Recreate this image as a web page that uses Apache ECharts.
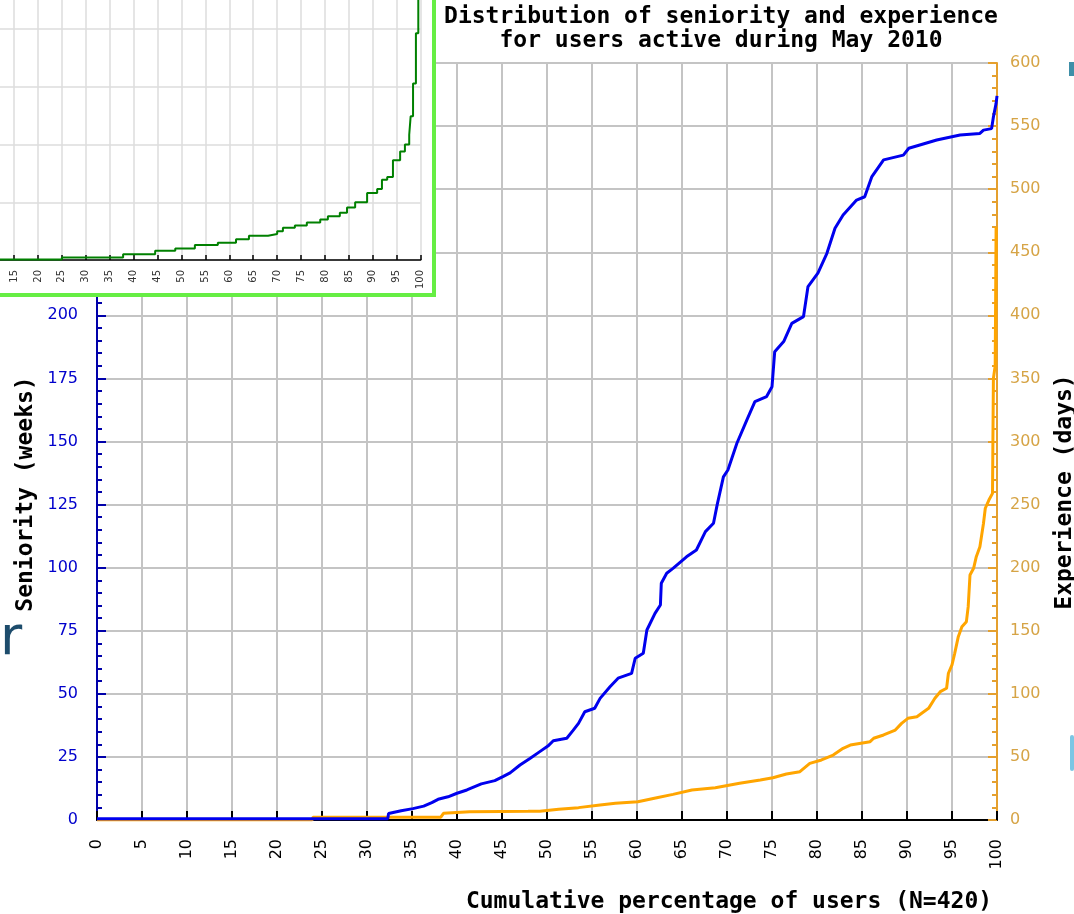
<!DOCTYPE html>
<html>
<head>
<meta charset="utf-8">
<script src="https://cdn.jsdelivr.net/npm/echarts@6/dist/echarts.min.js"></script>
<style>
html,body{margin:0;padding:0;background:#fff;}
#chart{width:1074px;height:914px;}
</style>
</head>
<body>
<div id="chart"></div>
<script>
// Main chart: seniority (weeks) vs cumulative percentage of users
const seniorityPct = [0, 32.3, 32.4, 33.8, 35.1, 36.3, 37.2, 37.9, 39.0, 40.0, 41.1, 42.7, 44.2, 45.1, 45.9, 47.0, 48.1, 49.2, 50.1, 50.7, 52.2, 52.9, 53.5, 54.2, 55.3, 55.9, 57.0, 57.9, 59.4, 59.8, 60.7, 61.1, 62.0, 62.6, 62.7, 63.3, 64.0, 65.5, 66.6, 67.6, 68.5, 68.9, 69.6, 70.1, 71.1, 72.2, 73.1, 74.4, 75.0, 75.3, 76.3, 77.2, 78.5, 79.0, 80.1, 81.1, 82.0, 82.9, 84.4, 85.3, 86.1, 87.4, 89.6, 90.2, 91.8, 93.3, 95.9, 98.1, 98.5, 99.4, 99.6, 99.9, 100];
const seniorityWeeks = [0.5, 0.5, 2.6, 3.7, 4.5, 5.5, 6.9, 8.2, 9.2, 10.6, 11.9, 14.3, 15.6, 17.2, 18.7, 21.8, 24.4, 27.1, 29.3, 31.4, 32.4, 35.5, 38.3, 42.9, 44.3, 48.2, 52.8, 56.2, 58.1, 64.1, 66.1, 75.3, 81.9, 85.2, 93.8, 97.8, 99.7, 104.3, 107, 114.3, 117.6, 124.8, 136, 138.7, 149.3, 158.5, 165.8, 167.8, 171.7, 185.6, 189.6, 196.8, 199.5, 211.4, 216.7, 224.6, 234.5, 239.8, 245.7, 247, 255, 261.6, 263.5, 266.2, 267.9, 269.5, 271.5, 272.1, 273.4, 274, 278.6, 284, 287];

// Experience (days) vs cumulative percentage of users
const experiencePct = [0, 23.9, 24.0, 38.2, 38.5, 41.4, 45.0, 47.9, 49.2, 51.3, 53.5, 55.9, 57.6, 60.1, 62.2, 64.0, 66.1, 68.7, 71.4, 73.7, 75.1, 76.6, 78.1, 79.2, 80.5, 81.8, 82.9, 83.7, 85.9, 86.3, 87.4, 88.7, 89.4, 90.1, 91.1, 92.4, 93.1, 93.7, 94.4, 94.6, 95.0, 95.3, 95.7, 96.1, 96.6, 96.8, 97.0, 97.4, 97.7, 98.1, 98.5, 98.7, 99.1, 99.5, 99.6, 99.8, 99.9];
const experienceDays = [0, 0, 2.2, 2.2, 5.3, 6.6, 6.8, 6.9, 7.0, 8.5, 9.8, 11.9, 13.2, 14.5, 17.7, 20.3, 23.8, 25.6, 29.1, 31.7, 33.5, 36.5, 38.3, 44.9, 47.6, 51.5, 56.8, 59.4, 62.1, 64.8, 67.4, 71.3, 76.6, 80.6, 81.9, 88.5, 96.5, 101.7, 104.4, 116.3, 122.9, 132.1, 145.3, 153.2, 157.2, 169.1, 194.2, 199.5, 208.7, 216.6, 235.2, 247.1, 253.6, 258.9, 350, 360, 470];

// Inset (partially visible overlaid chart)
const insetPct = [10, 25.0, 37.8, 44.5, 48.7, 52.8, 57.6, 61.4, 64.1, 68.1, 70.0, 71.2, 73.7, 76.2, 79.0, 80.6, 83.1, 84.6, 86.3, 88.8, 90.9, 91.9, 93.0, 94.2, 95.7, 96.7, 97.6, 97.9, 98.4, 99.0, 99.5, 100];
const insetValue = [1, 4.5, 10, 16, 20, 26, 30, 36, 42, 45, 50, 56, 60, 65, 70, 76, 82, 91, 100, 116, 123, 139, 144, 173, 188, 200, 217, 249, 306, 393, 560, 700];

const titleLines = ['Distribution of seniority and experience', 'for users active during May 2010'];
const xName = 'Cumulative percentage of users (N=420)';
const leftName = 'Seniority (weeks)';
const rightName = 'Experience (days)';

const zip = (a, b) => a.map((v, i) => [v, b[i]]);

const chart = echarts.init(document.getElementById('chart'), null, {renderer: 'canvas'});
const labelFont = 'DejaVu Sans';
const titleFont = 'DejaVu Sans Mono';

const option = {
  animation: false,
  backgroundColor: '#ffffff',
  grid: [
    {left: 97, top: 63, width: 900, height: 757, containLabel: false, outerBoundsMode: 'none'},
    {left: -9.9, top: -28.5, width: 430.6, height: 288.5, containLabel: false, outerBoundsMode: 'none'}
  ],
  xAxis: [
    {
      type: 'value', gridIndex: 0, min: 0, max: 100, interval: 5,
      axisLine: {show: true, lineStyle: {color: '#000', width: 2}},
      axisTick: {show: true, inside: true, length: 9, lineStyle: {color: '#000', width: 2}},
      axisLabel: {rotate: 90, margin: 19, color: '#000', fontFamily: labelFont, fontSize: 16},
      splitLine: {show: true, lineStyle: {color: '#c4c4c4', width: 2}}
    },
    {
      type: 'value', gridIndex: 1, min: 10, max: 100, interval: 5, z: 20,
      axisLine: {show: true, lineStyle: {color: '#000', width: 1.5}},
      axisTick: {show: true, inside: true, length: 5, lineStyle: {color: '#000', width: 1.5}},
      axisLabel: {rotate: 90, margin: 10, color: '#333', fontFamily: labelFont, fontSize: 10},
      splitLine: {show: true, lineStyle: {color: '#dcdcdc', width: 1.5}}
    }
  ],
  yAxis: [
    {
      type: 'value', gridIndex: 0, position: 'left', min: 0, max: 300, interval: 25,
      axisLine: {show: true, lineStyle: {color: '#0000aa', width: 2}},
      axisTick: {show: true, inside: true, length: 9, lineStyle: {color: '#0000aa', width: 2}},
      minorTick: {show: true, splitNumber: 5, length: 5, lineStyle: {color: '#0000aa', width: 2}},
      axisLabel: {margin: 19, color: '#0000cc', fontFamily: labelFont, fontSize: 16},
      splitLine: {show: true, lineStyle: {color: '#c4c4c4', width: 2}}
    },
    {
      type: 'value', gridIndex: 0, position: 'right', min: 0, max: 600, interval: 50,
      axisLine: {show: true, lineStyle: {color: '#e5a02e', width: 2}},
      axisTick: {show: true, inside: true, length: 9, lineStyle: {color: '#e5a02e', width: 2}},
      minorTick: {show: true, splitNumber: 5, length: 5, lineStyle: {color: '#e5a02e', width: 2}},
      axisLabel: {margin: 13, color: '#d6a446', fontFamily: labelFont, fontSize: 16},
      splitLine: {show: false}
    },
    {
      type: 'value', gridIndex: 1, min: 0, max: 500, interval: 100, z: 20,
      axisLine: {show: false}, axisTick: {show: false}, axisLabel: {show: false},
      splitLine: {show: true, lineStyle: {color: '#dcdcdc', width: 1.5}}
    }
  ],
  series: [
    {
      name: 'Experience', type: 'line', xAxisIndex: 0, yAxisIndex: 1,
      data: zip(experiencePct, experienceDays), showSymbol: false, symbol: 'none',
      lineStyle: {color: '#ffa500', width: 3}, z: 2
    },
    {
      name: 'Seniority', type: 'line', xAxisIndex: 0, yAxisIndex: 0,
      data: zip(seniorityPct, seniorityWeeks), showSymbol: false, symbol: 'none',
      lineStyle: {color: '#0000ee', width: 3}, z: 3
    },
    {
      name: 'Inset', type: 'line', xAxisIndex: 1, yAxisIndex: 2, step: 'end',
      data: zip(insetPct, insetValue), showSymbol: false, symbol: 'none', clip: true,
      lineStyle: {color: '#008000', width: 2}, z: 22
    }
  ],
  graphic: [
    {type: 'rect', z: 10, shape: {x: 0, y: 0, width: 432, height: 293}, style: {fill: '#ffffff'}},
    {type: 'polyline', z: 30, shape: {points: [[434, -2], [434, 295], [-2, 295]]}, style: {stroke: '#66ee44', lineWidth: 4, fill: null}},
    {type: 'text', z: 40, x: 721, y: 17, style: {text: titleLines[0], font: 'bold 23px "' + titleFont + '"', fill: '#000', align: 'center', verticalAlign: 'middle'}},
    {type: 'text', z: 40, x: 721, y: 41, style: {text: titleLines[1], font: 'bold 23px "' + titleFont + '"', fill: '#000', align: 'center', verticalAlign: 'middle'}},
    {type: 'text', z: 40, x: 729, y: 902, style: {text: xName, font: 'bold 23px "' + titleFont + '"', fill: '#000', align: 'center', verticalAlign: 'middle'}},
    {type: 'text', z: 40, x: 26, y: 494, rotation: Math.PI / 2, style: {text: leftName, font: 'bold 23px "' + titleFont + '"', fill: '#000', align: 'center', verticalAlign: 'middle'}},
    {type: 'text', z: 40, x: 1065, y: 492, rotation: Math.PI / 2, style: {text: rightName, font: 'bold 23px "' + titleFont + '"', fill: '#000', align: 'center', verticalAlign: 'middle'}},
    {type: 'text', z: 40, x: 0, y: 640, style: {text: 'r', font: '54px "DejaVu Sans"', fill: '#1d4c6c', align: 'left', verticalAlign: 'middle'}},
    {type: 'rect', z: 40, shape: {x: 1069, y: 62, width: 5, height: 14}, style: {fill: '#3f8fa8'}},
    {type: 'rect', z: 40, shape: {x: 1070, y: 735, width: 4, height: 36, r: 2}, style: {fill: '#7cc6e4'}}
  ]
};
chart.setOption(option);
</script>
</body>
</html>
